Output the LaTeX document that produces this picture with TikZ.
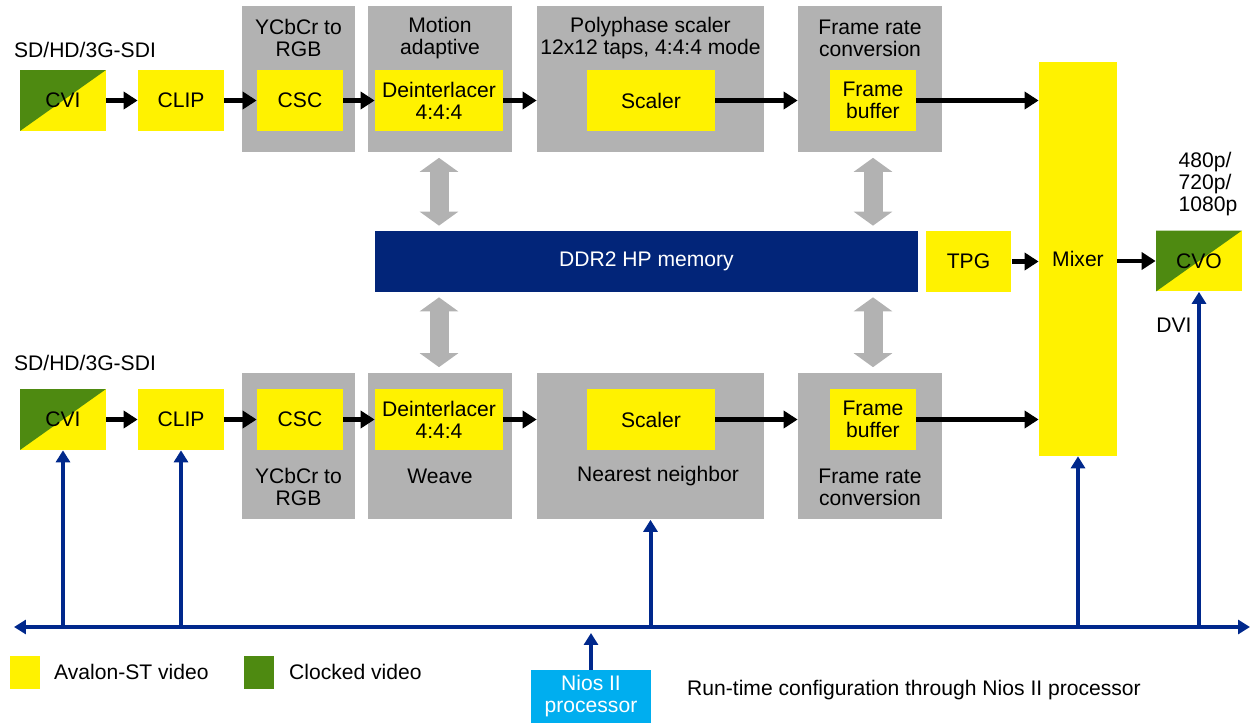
\documentclass[tikz,border=0pt]{standalone}
\usepackage{fontspec}
\setmainfont{Liberation Sans}
\usetikzlibrary{arrows.meta}
\definecolor{vidyellow}{HTML}{FFF200}
\definecolor{clkgreen}{HTML}{4E8A11}
\definecolor{boxgray}{HTML}{B2B2B2}
\definecolor{memblue}{HTML}{022579}
\definecolor{busblue}{HTML}{00288C}
\definecolor{niosblue}{HTML}{00AEEF}
\begin{document}
\begin{tikzpicture}[x=0.02cm,y=-0.02cm,
    font=\fontsize{12pt}{12.5pt}\selectfont,
    yel/.style={fill=vidyellow,minimum width=1.72cm,minimum height=1.22cm,inner sep=0pt,align=center},
    wide/.style={yel,minimum width=2.56cm},
    grp/.style={fill=boxgray,minimum height=2.94cm,inner sep=0pt},
    clk/.style={yel,path picture={\fill[clkgreen] (path picture bounding box.south west) -- (path picture bounding box.north west) -- (path picture bounding box.north east) -- cycle;}},
    flow/.style={-{Triangle[width=0.34cm,length=0.28cm]},line width=0.1cm},
    ctrl/.style={-{Triangle[width=0.28cm,length=0.24cm]},line width=0.08cm,busblue},
    bus/.style={ctrl,{Triangle[width=0.28cm,length=0.24cm]}-{Triangle[width=0.28cm,length=0.24cm]}},
    memlink/.style={{Triangle[width=0.76cm,length=0.28cm]}-{Triangle[width=0.76cm,length=0.28cm]},line width=0.38cm,boxgray,shorten <=0.1cm,shorten >=0.1cm}]
    \useasboundingbox (0,0) rectangle (1252,723);

    \draw (298.5,79) node[grp,minimum width=2.26cm] (ga1) {};
    \draw (440,79)   node[grp,minimum width=2.88cm] (gb1) {};
    \draw (650.5,79) node[grp,minimum width=4.54cm] (gc1) {};
    \draw (870,79)   node[grp,minimum width=2.88cm] (gd1) {};
    \draw (298.5,446) node[grp,minimum width=2.26cm] (ga2) {};
    \draw (440,446)   node[grp,minimum width=2.88cm] (gb2) {};
    \draw (650.5,446) node[grp,minimum width=4.54cm] (gc2) {};
    \draw (870,446)   node[grp,minimum width=2.88cm] (gd2) {};

    \node[align=center] (ta1) at (298.5,38) {YCbCr to\\RGB};
    \node[align=center] (tb1) at (440,38) {Motion\\adaptive};
    \node[align=center] (tc1) at (650.5,38) {Polyphase scaler\\12x12 taps, 4:4:4 mode};
    \node[align=center] (td1) at (870,38) {Frame rate\\conversion};
    \node[align=center] (ta2) at (298.5,487) {YCbCr to\\RGB};
    \node (tb2) at (440,476) {Weave};
    \node (tc2) at (658,476) {Nearest neighbor};
    \node[align=center] (td2) at (870,487) {Frame rate\\conversion};

    \node (sdi1) at (85,50) {SD/HD/3G-SDI};
    \node (sdi2) at (85,363) {SD/HD/3G-SDI};

    \draw (63,100.5)  node[clk]  (cvi1)  {CVI};
    \draw (181,100.5) node[yel]  (clip1) {CLIP};
    \draw (300,100.5) node[yel]  (csc1)  {CSC};
    \draw (439,100.5) node[wide] (dei1)  {Deinterlacer\\4:4:4};
    \draw (651,100.5) node[wide] (scl1)  {Scaler};
    \draw (873,100.5) node[yel]  (fb1)   {Frame\\buffer};
    \draw (63,419.5)  node[clk]  (cvi2)  {CVI};
    \draw (181,419.5) node[yel]  (clip2) {CLIP};
    \draw (300,419.5) node[yel]  (csc2)  {CSC};
    \draw (439,419.5) node[wide] (dei2)  {Deinterlacer\\4:4:4};
    \draw (651,419.5) node[wide] (scl2)  {Scaler};
    \draw (873,419.5) node[yel]  (fb2)   {Frame\\buffer};

    \draw (646.5,261.5) node[fill=memblue,text=white,minimum width=10.88cm,minimum height=1.22cm] (mem) {DDR2 HP memory};
    \draw (968.5,261.5) node[yel] (tpg) {TPG};
    \draw (1078,259) node[yel,minimum width=1.56cm,minimum height=7.88cm] (mix) {Mixer};
    \draw (1199,261) node[clk] (cvo) {CVO};
    \node[align=left] (res) at (1208,184) {480p/\\720p/\\1080p};
    \node (dvi) at (1174,325) {DVI};

    \draw[flow] (cvi1) -- (clip1);
    \draw[flow] (clip1) -- (csc1);
    \draw[flow] (csc1) -- (dei1);
    \draw[flow] (dei1.east) -- (dei1.east -| gc1.west);
    \draw[flow] (scl1.east) -- (scl1.east -| gd1.west);
    \draw[flow] (fb1.east) -- (fb1.east -| mix.west);
    \draw[flow] (cvi2) -- (clip2);
    \draw[flow] (clip2) -- (csc2);
    \draw[flow] (csc2) -- (dei2);
    \draw[flow] (dei2.east) -- (dei2.east -| gc2.west);
    \draw[flow] (scl2.east) -- (scl2.east -| gd2.west);
    \draw[flow] (fb2.east) -- (fb2.east -| mix.west);
    \draw[flow] (tpg.east) -- (tpg.east -| mix.west);
    \draw[flow] (mix.east |- cvo.west) -- (cvo.west);

    \draw[memlink] (dei1 |- gb1.south) -- (dei1 |- mem.north);
    \draw[memlink] (fb1 |- gd1.south) -- (fb1 |- mem.north);
    \draw[memlink] (dei2 |- mem.south) -- (dei2 |- gb2.north);
    \draw[memlink] (fb2 |- mem.south) -- (fb2 |- gd2.north);

    \coordinate (busl) at (14,627);
    \coordinate (busr) at (1250,627);
    \draw[bus] (busl) -- (busr);
    \draw[ctrl] (cvi2.south |- busl) -- (cvi2.south);
    \draw[ctrl] (clip2.south |- busl) -- (clip2.south);
    \draw[ctrl] (gc2.south |- busl) -- (gc2.south);
    \draw[ctrl] (mix.south |- busl) -- (mix.south);
    \draw[ctrl] (cvo.south |- busl) -- (cvo.south);

    \draw (591,696.5) node[fill=niosblue,text=white,minimum width=2.4cm,minimum height=1.06cm,inner sep=0pt,align=center] (nios) {Nios II\\processor};
    \draw[ctrl,shorten >=0.12cm] (nios.north) -- (nios.north |- busl);

    \draw (25,672) node[fill=vidyellow,minimum width=0.6cm,minimum height=0.66cm,inner sep=0pt] (keyy) {};
    \node[right] (keyyt) at (48,672) {Avalon-ST video};
    \draw (259,672) node[fill=clkgreen,minimum width=0.6cm,minimum height=0.66cm,inner sep=0pt] (keyg) {};
    \node[right] (keygt) at (283,672) {Clocked video};
    \node[right] (cfg) at (681,690) {Run-time configuration through Nios II processor};
\end{tikzpicture}
\end{document}
